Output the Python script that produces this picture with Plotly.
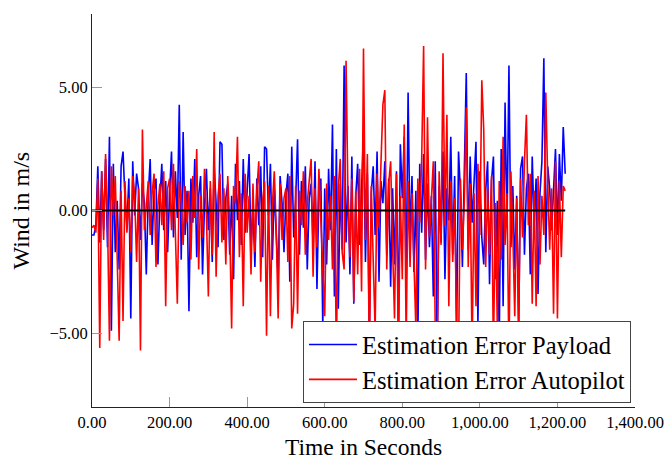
import plotly.graph_objects as go

time_s = [5 * i for i in range(245)]

payload_error = [
    -1.0, -1.0, -0.6, 1.8, -1.3, 1.6, -0.8, 2.1, -1.5, 3.0,
    -4.9, 1.9, -1.7, 0.4, -2.4, 1.8, 2.4, 0.5, -0.6, 1.3,
    -4.4, 2.0, -0.2, 1.5, 0.9, -1.2, 1.1, 0.3, -2.6, 0.6,
    2.1, -1.4, 0.8, 1.3, -2.2, 0.4, 1.9, -0.8, 1.2, -1.7,
    0.7, 2.4, -1.1, 1.6, -0.3, 4.3, -2.0, 3.2, -1.0, 0.8,
    -4.1, 1.3, -0.5, 2.1, -1.9, 0.6, 1.4, -2.6, 0.2, 1.7,
    -0.8, 0.9, -2.1, 1.8, 0.3, -1.5, 2.8, 2.7, -1.2, 0.5,
    1.1, -1.8, 0.6, -2.8, 1.9, -0.4, 1.2, -1.4, 2.1, -0.9,
    0.8, 2.3, -1.6, 0.2, -2.3, 1.3, -0.6, 1.8, -1.9, 2.6,
    2.5, -0.2, 1.9, -2.0, 0.9, -1.3, -2.8, 1.4, 0.3, -1.7,
    0.6, 1.5, -2.9, 2.6, -1.1, 0.4, 2.9, -1.8, 1.2, -0.7,
    1.8, -2.4, 0.5, 1.1, -1.4, 2.0, -3.2, 0.7, 1.3, -4.7,
    0.9, -2.2, 1.7, -0.8, 3.5, -3.5, 2.5, -4.0, 1.1, -1.6,
    5.9, -1.3, 1.0, -2.6, 2.2, -3.8, 0.6, 1.9, -1.4, 0.8,
    3.3, -2.1, 1.5, -5.2, 0.7, 1.8, -1.0, 2.4, -2.9, 1.2,
    0.3, 2.0, -1.8, 1.3, -3.1, 0.9, -2.2, 1.6, -4.8, 2.7,
    0.5, 3.0, -3.0, 4.8, -1.2, 1.4, -2.5, 0.8, -5.5, 1.9,
    -0.9, 2.3, -2.0, 1.1, -1.5, 0.6, -3.5, 2.0, -5.8, 1.0,
    -1.3, 2.4, -2.8, 0.9, -0.4, 3.0, -1.8, 1.4, -5.0, 2.4,
    0.7, -2.3, 1.5, 5.6, -1.6, 2.2, -0.5, 1.3, 2.8, -4.6,
    1.6, -1.1, -2.2, 0.8, 2.0, -3.0, 1.2, 2.2, -2.8, 0.4,
    -5.3, 2.5, -3.9, 4.4, -0.7, 5.9, -1.5, 1.0, -2.4, 0.6,
    -4.9, 1.7, 2.2, -1.8, 0.9, 1.5, -2.6, 2.2, -0.6, 1.3,
    -3.4, 0.7, 2.0, 6.2, -1.7, 1.8, 0.9, -0.8, 1.2, 2.5,
    -1.0, 2.3, 0.4, 3.4, 1.5,
]

autopilot_error = [
    -0.7, -0.6, -0.9, 1.3, -5.6, 1.6, -1.2, 2.3, -0.4, -5.3,
    1.8, -0.2, 1.4, -1.6, -5.3, 0.8, -4.5, 1.2, -0.9, 0.5,
    -1.7, 1.4, 0.6, -2.1, 0.9, -5.7, 3.3, -0.8, 0.4, 1.2,
    -1.0, 0.7, 1.5, -2.3, 0.2, 1.1, -0.6, 1.6, -3.9, 0.9,
    1.3, -0.8, 1.9, -1.6, -3.8, 1.2, 0.3, -1.4, 1.0, -0.5,
    0.8, -2.0, 1.4, -0.3, 2.5, -2.4, 0.6, -1.1, 1.7, -0.2,
    -3.5, 1.2, -1.8, 3.2, -2.7, 0.6, 1.5, -1.3, 0.9, -2.2,
    1.4, -0.6, -4.8, 1.0, 0.3, 3.0, -1.9, 0.7, -3.9, 1.5,
    -0.9, 0.6, -2.6, 1.1, -1.7, 0.8, 2.0, -2.9, 0.4, 1.2,
    -5.1, 1.0, -4.3, 0.2, 1.6, -0.8, -4.4, 1.1, -1.2, 0.5,
    0.9, -2.1, 1.4, -4.8, -3.8, 1.0, -4.2, 0.8, -0.6, 1.6,
    -1.8, 0.3, 1.2, 2.1, -2.7, 0.9, -1.5, 1.7, -0.4, -2.2,
    -4.3, 1.1, -1.2, 0.6, -2.4, 1.4, -6.0, 0.9, 2.1, -1.7,
    -2.4, 6.1, 0.5, -1.9, 1.3, -3.7, 0.8, -2.6, 1.7, -3.3,
    6.6, -1.2, 2.3, -6.2, 1.0, -2.0, -4.9, 1.5, -0.7, 1.9,
    4.3, 4.9, -2.4, 1.1, 2.0, -1.5, -4.4, 1.5, -6.1, 0.6,
    -2.8, 3.5, -5.4, 1.2, -2.3, 0.7, -1.9, -4.8, 1.3, -0.5,
    2.1, 6.7, -2.4, 3.8, -1.1, 0.8, 2.0, -4.8, -6.3, 1.6,
    -1.4, 6.4, -0.6, 3.9, -3.9, 1.2, -2.1, 0.5, -4.8, -6.0,
    1.3, -1.6, 0.4, 4.2, -2.3, 1.1, -5.8, 0.7, -3.9, 1.9,
    -1.0, 5.3, 3.3, -2.3, 0.9, -1.8, 1.4, -5.9, 0.3, -4.8,
    1.2, -2.0, 3.0, -1.4, 0.7, -6.1, 1.6, -0.9, -4.3, 0.5,
    -4.8, 1.3, -1.1, 2.0, 3.9, -0.6, 1.5, -3.8, 0.8, -3.9,
    1.4, -2.2, 0.6, -1.0, 4.8, 1.2, -1.6, 0.9, -4.2, 2.0,
    -4.4, 1.2, -1.9, 1.0, 0.8,
]

x_tick_values = [0, 200, 400, 600, 800, 1000, 1200, 1400]
x_tick_labels = ["0.00", "200.00", "400.00", "600.00", "800.00",
                 "1,000.00", "1,200.00", "1,400.00"]
y_tick_values = [-5, 0, 5]
y_tick_labels = ["\u22125.00", "0.00", "5.00"]

SERIF = "Liberation Serif, Times New Roman, serif"

fig = go.Figure()
fig.add_trace(go.Scatter(x=time_s, y=payload_error, mode="lines",
                         name="Estimation Error Payload",
                         line=dict(color="#0000ff", width=1.6)))
fig.add_trace(go.Scatter(x=time_s, y=autopilot_error, mode="lines",
                         name="Estimation Error Autopilot",
                         line=dict(color="#ff0000", width=1.6)))
fig.add_trace(go.Scatter(x=[time_s[0], time_s[-1]], y=[0, 0], mode="lines",
                         showlegend=False, hoverinfo="skip",
                         line=dict(color="#000000", width=2)))

fig.update_layout(
    width=667, height=462,
    margin=dict(l=92, r=32, t=14, b=55, autoexpand=False),
    paper_bgcolor="white", plot_bgcolor="white",
    font=dict(family=SERIF, color="black", size=16.5),
    showlegend=True,
    legend=dict(
        x=0.9926, y=0.01, xanchor="right", yanchor="bottom",
        bgcolor="white", bordercolor="#444444", borderwidth=1,
        font=dict(family=SERIF, size=24.5, color="black"),
        itemwidth=48, tracegroupgap=0,
    ),
    xaxis=dict(
        range=[0, 1400], showgrid=False, zeroline=False,
        showline=True, linecolor="#222222", linewidth=1,
        ticks="inside", ticklen=10, tickcolor="#999999", tickwidth=1,
        tickvals=x_tick_values, ticktext=x_tick_labels,
        tickfont=dict(family=SERIF, size=16.5, color="black"),
        fixedrange=True,
    ),
    yaxis=dict(
        range=[-8, 8], showgrid=False, zeroline=False,
        showline=True, linecolor="#222222", linewidth=1,
        ticks="inside", ticklen=10, tickcolor="#999999", tickwidth=1,
        tickvals=y_tick_values, ticktext=y_tick_labels,
        tickfont=dict(family=SERIF, size=16.5, color="black"),
        fixedrange=True,
    ),
    annotations=[
        dict(text="Time in Seconds", xref="paper", yref="paper",
             x=0.5, y=0, xanchor="center", yanchor="middle", yshift=-40,
             showarrow=False, borderpad=0,
             font=dict(family=SERIF, size=23.5, color="black")),
        dict(text="Wind in m/s", xref="paper", yref="paper",
             x=0, y=0.5, xanchor="center", yanchor="middle", xshift=-72,
             textangle=-90, showarrow=False,
             font=dict(family=SERIF, size=24, color="black")),
    ],
)

fig.write_html("out.html")
